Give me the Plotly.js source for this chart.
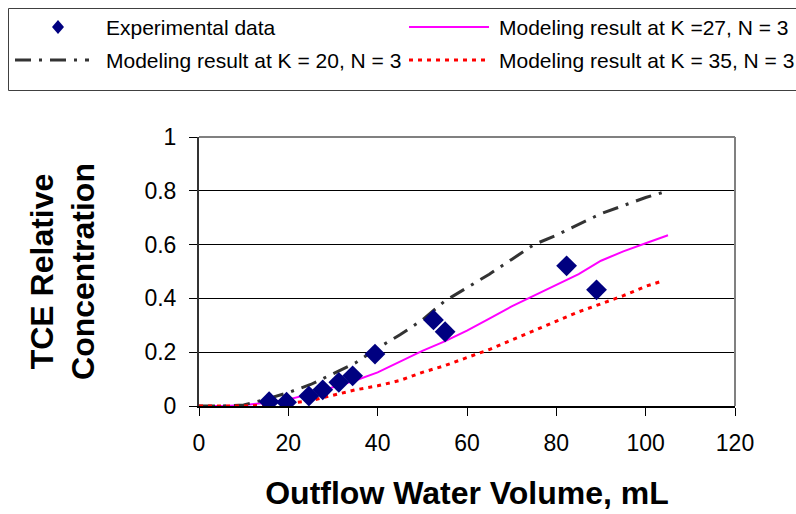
<!DOCTYPE html>
<html>
<head>
<meta charset="utf-8">
<script src="https://cdn.plot.ly/plotly-3.0.1.min.js"></script>
<style>html,body{margin:0;padding:0;background:#fff;}#chart{width:796px;height:514px;}</style>
</head>
<body>
<div id="chart"></div>
<script>
// Experimental data
const expX = [15.7, 19.6, 24.6, 27.7, 31.3, 34.4, 39.4, 52.5, 55.1, 82.3, 89.0];
const expY = [0.016, 0.014, 0.037, 0.06, 0.088, 0.112, 0.193, 0.32, 0.276, 0.521, 0.432];

// Model curves
const modelX = [0, 5, 10, 15, 20, 25, 30, 35, 40, 45, 50, 55, 60, 65, 70, 75, 80, 85, 90, 95, 100, 104];
const modelX27 = [0, 5, 10, 15, 20, 25, 30, 35, 40, 45, 50, 55, 60, 65, 70, 75, 80, 85, 90, 95, 100, 105];
const k27Y = [0, 0, 0.003, 0.012, 0.024, 0.045, 0.07, 0.095, 0.125, 0.165, 0.205, 0.24, 0.28, 0.325, 0.37, 0.41, 0.45, 0.49, 0.54, 0.575, 0.605, 0.635];
const k20Y = [0, 0, 0.004, 0.025, 0.05, 0.08, 0.12, 0.16, 0.215, 0.265, 0.32, 0.39, 0.44, 0.49, 0.545, 0.6, 0.635, 0.675, 0.715, 0.745, 0.775, 0.795];
const k35Y = [0, 0, 0, 0.003, 0.01, 0.02, 0.04, 0.06, 0.075, 0.095, 0.125, 0.15, 0.18, 0.21, 0.245, 0.28, 0.315, 0.35, 0.38, 0.41, 0.445, 0.466];

const names = ["Experimental data", "Modeling result at K =27, N = 3", "Modeling result at K = 20, N = 3", "Modeling result at K = 35, N = 3"];
const xTicks = [0, 20, 40, 60, 80, 100, 120];
const yTicks = [0, 0.2, 0.4, 0.6, 0.8, 1];
const yTickText = ["0", "0.2", "0.4", "0.6", "0.8", "1"];

const FONT = "Liberation Sans, Arial, sans-serif";
const W = 796, H = 514;
const M = {l: 199, r: 61, t: 137, b: 108};
const PW = W - M.l - M.r, PH = H - M.t - M.b;
const px = v => (v - M.l) / PW;          // pixel x -> paper x
const py = v => (H - M.b - v) / PH;      // pixel y -> paper y

const styles = {
  k27: {color: "#FF00FF", width: 2},
  k20: {color: "#333333", width: 3, dash: "16px,8px,3px,8px"},
  k35: {color: "#FF0000", width: 3, dash: "4px,5px"}
};

const traces = [
  {x: modelX27, y: k27Y, name: names[1], mode: "lines", line: styles.k27},
  {x: modelX, y: k20Y, name: names[2], mode: "lines", line: styles.k20},
  {x: modelX, y: k35Y, name: names[3], mode: "lines", line: styles.k35},
  {x: expX, y: expY, name: names[0], mode: "markers", marker: {symbol: "diamond", size: 16, color: "#000080"}}
];

// manual legend (2 x 2 grid, as in the reference)
const row1 = 27, row2 = 60;
const legendShapes = [
  {type: "rect", xref: "paper", yref: "paper", x0: px(8.5), x1: px(800), y0: py(8.5), y1: py(90.5), line: {color: "#404040", width: 1}, fillcolor: "#fff", layer: "above"},
  {type: "path", xref: "paper", yref: "paper",
   path: `M ${px(58)},${py(row1 - 7)} L ${px(64)},${py(row1)} L ${px(58)},${py(row1 + 7)} L ${px(52)},${py(row1)} Z`,
   fillcolor: "#000080", line: {color: "#000080", width: 0}},
  {type: "line", xref: "paper", yref: "paper", x0: px(409), x1: px(489), y0: py(row1), y1: py(row1), line: styles.k27},
  {type: "line", xref: "paper", yref: "paper", x0: px(15), x1: px(89), y0: py(row2), y1: py(row2), line: styles.k20},
  {type: "line", xref: "paper", yref: "paper", x0: px(409), x1: px(489), y0: py(row2), y1: py(row2), line: styles.k35}
];
const legendText = [
  [names[0], 104, row1], [names[1], 497, row1], [names[2], 104, row2], [names[3], 497, row2]
].map(([t, x, y]) => ({
  text: t, xref: "paper", yref: "paper", x: px(x), y: py(y), xanchor: "left", yanchor: "middle",
  showarrow: false, font: {family: FONT, size: 21, color: "#000"}
}));

const layout = {
  width: W, height: H,
  margin: M,
  paper_bgcolor: "#fff", plot_bgcolor: "#fff",
  font: {family: FONT, color: "#000"},
  showlegend: false,
  xaxis: {
    range: [0, 120], tickvals: xTicks, ticktext: xTicks.map(String),
    showgrid: false, zeroline: false,
    showline: true, linecolor: "#000", linewidth: 1.5,
    ticks: "outside", ticklen: 8, tickcolor: "#000", tickwidth: 1,
    ticklabelstandoff: 8,
    tickfont: {family: FONT, size: 23, color: "#000"},
    title: {text: "<b>Outflow Water Volume, mL</b>", font: {family: FONT, size: 32, color: "#000"}, standoff: 26}
  },
  yaxis: {
    range: [0, 1], tickvals: yTicks, ticktext: yTickText,
    showgrid: true, gridcolor: "#000", gridwidth: 1, zeroline: false,
    showline: true, linecolor: "#333", linewidth: 2,
    ticks: "outside", ticklen: 8, tickcolor: "#000", tickwidth: 1,
    ticklabelstandoff: 8,
    tickfont: {family: FONT, size: 23, color: "#000"},
    title: {text: "<b>TCE Relative<br>Concentration</b>", font: {family: FONT, size: 32, color: "#000"}, standoff: 40}
  },
  shapes: [
    {type: "line", xref: "paper", yref: "paper", x0: 0, x1: 1, y0: 1, y1: 1, line: {color: "#808080", width: 2}},
    {type: "line", xref: "paper", yref: "paper", x0: 1, x1: 1, y0: 0, y1: 1, line: {color: "#808080", width: 2}}
  ].concat(legendShapes),
  annotations: legendText
};

Plotly.newPlot("chart", traces, layout, {displayModeBar: false, staticPlot: true});
</script>
</body>
</html>
